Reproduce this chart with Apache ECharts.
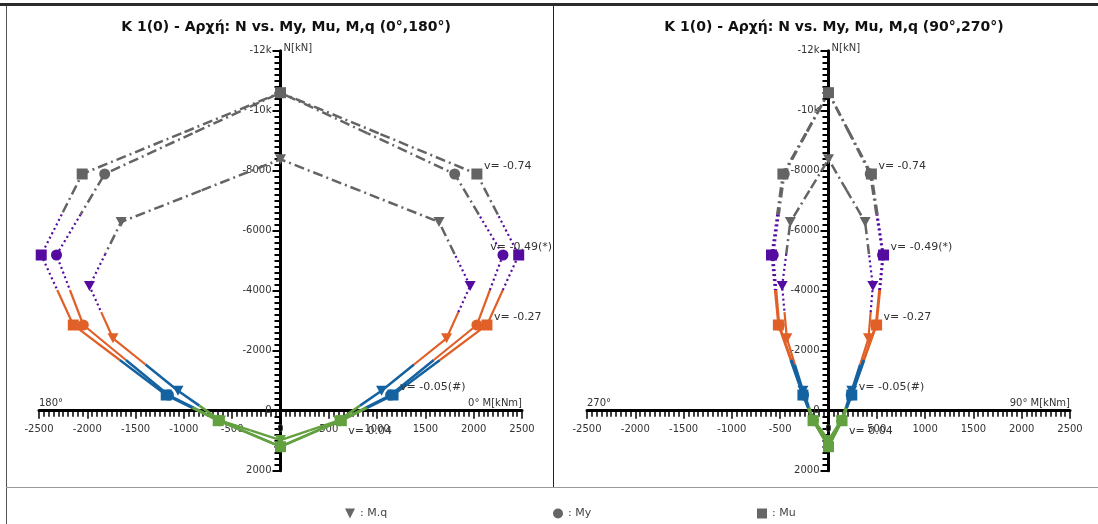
<!DOCTYPE html>
<html><head><meta charset="utf-8">
<script src="https://cdn.jsdelivr.net/npm/echarts@6/dist/echarts.min.js"></script>
<style>html,body{margin:0;padding:0;background:#fff}#c{width:1098px;height:524px}</style>
</head><body><div id="c"></div>
<script>
// ---- data ----
const titles = ['K 1(0) - Αρχή: N vs. My, Mu, M,q (0°,180°)', 'K 1(0) - Αρχή: N vs. My, Mu, M,q (90°,270°)'];
const posNames = ['0° M[kNm]', '90° M[kNm]'];
const negNames = ['180°', '270°'];
const curveNames = ['M.q', 'My', 'Mu'];
const levelLabels = ['v= 0.04', 'v= -0.05(#)', 'v= -0.27', 'v= -0.49(*)', 'v= -0.74'];
const xRange = [-2500, 2500], xStep = 500;
const yRange = [-12000, 2000], yStep = 2000;

// N [kN] at the five v-levels, and the pure tension / compression apexes
const nLevelsMq = [330, -667, -2413, -4157, -6290];
const nLevelsMyMu = [333, -523, -2857, -5190, -7890];
const nTensionMq = 980, nCompMq = -8380;
const nTensionMyMu = 1200, nCompMyMu = -10600;

// Chart A (0°,180°)  M [kNm]
const a_Mq_pos = [600, 1046, 1719, 1963, 1641];
const a_Mq_neg = [-620, -1061, -1734, -1978, -1650];
const a_My_pos = [615, 1140, 2033, 2303, 1803];
const a_My_neg = [-630, -1160, -2041, -2319, -1820];
const a_Mu_pos = [630, 1165, 2137, 2466, 2033];
const a_Mu_neg = [-645, -1183, -2145, -2477, -2053];

// Chart B (90°,270°)  M [kNm]
const b_Mq_pos = [130, 241, 414, 459, 379];
const b_Mq_neg = [-150, -265, -431, -480, -395];
const b_My_pos = [135, 235, 490, 560, 432];
const b_My_neg = [-155, -258, -510, -572, -458];
const b_Mu_pos = [140, 241, 498, 570, 444];
const b_Mu_neg = [-160, -265, -519, -590, -472];

// ---- styles ----
const levelColors = ['#62a040', '#1462a0', '#e06028', '#550aa0', '#646464'];
const levelWidths = [2.5, 2.5, 2.2, 2.2, 2.5];
const levelDash = [null, null, null, [2, 3], [10, 4, 2, 4]];
const FONT = '"DejaVu Sans", Verdana, sans-serif';

function buildLoop(nT, nC, nLv, pos, neg) {
  const loop = [[0, nT, 0]];
  for (let i = 0; i < nLv.length; i++) loop.push([pos[i], nLv[i], i]);
  loop.push([0, nC, 4]);
  for (let i = nLv.length - 1; i >= 0; i--) loop.push([neg[i], nLv[i], i]);
  return loop;
}

const charts = [
  { Mq: buildLoop(nTensionMq, nCompMq, nLevelsMq, a_Mq_pos, a_Mq_neg),
    My: buildLoop(nTensionMyMu, nCompMyMu, nLevelsMyMu, a_My_pos, a_My_neg),
    Mu: buildLoop(nTensionMyMu, nCompMyMu, nLevelsMyMu, a_Mu_pos, a_Mu_neg),
    MuPos: a_Mu_pos, right: 552 },
  { Mq: buildLoop(nTensionMq, nCompMq, nLevelsMq, b_Mq_pos, b_Mq_neg),
    My: buildLoop(nTensionMyMu, nCompMyMu, nLevelsMyMu, b_My_pos, b_My_neg),
    Mu: buildLoop(nTensionMyMu, nCompMyMu, nLevelsMyMu, b_Mu_pos, b_Mu_neg),
    MuPos: b_Mu_pos, right: 1096 }
];

const mctx = document.createElement('canvas').getContext('2d');
mctx.font = '11px ' + FONT;

function lineRenderer(loop) {
  return function (params, api) {
    const i = params.dataIndex, n = loop.length;
    const a = loop[(i - 1 + n) % n], b = loop[(i + 1) % n];
    const c = api.coord([loop[i][0], loop[i][1]]);
    const p = api.coord([a[0], a[1]]);
    const q = api.coord([b[0], b[1]]);
    const lv = loop[i][2];
    return {
      type: 'polyline',
      shape: { points: [[(p[0] + c[0]) / 2, (p[1] + c[1]) / 2], c, [(q[0] + c[0]) / 2, (q[1] + c[1]) / 2]] },
      style: { stroke: levelColors[lv], lineWidth: levelWidths[lv], lineDash: levelDash[lv], fill: 'none', lineJoin: 'round' }
    };
  };
}

const grids = [], xAxes = [], yAxes = [], series = [], titleOpts = [];
const gridLefts = [39, 587];
const GW = 483, GH = 420, GTOP = 50.7;
// place the axes through the origin (0,0)
const xAxisOffset = -GH * (0 - yRange[0]) / (yRange[1] - yRange[0]) + GH; // distance from bottom edge
const yAxisOffset = GW * (0 - xRange[0]) / (xRange[1] - xRange[0]);       // distance from left edge
charts.forEach((ch, g) => {
  grids.push({ left: gridLefts[g], top: GTOP, width: GW, height: GH });
  titleOpts.push({ text: titles[g], left: gridLefts[g] + 242, top: 15, textAlign: 'center',
    textStyle: { fontFamily: FONT, fontSize: 14, fontWeight: 'bold', color: '#111' } });
  const xCommon = {
    type: 'value', gridIndex: g, min: xRange[0], max: xRange[1], interval: xStep, position: 'bottom',
    offset: -xAxisOffset, splitLine: { show: false }, minorSplitLine: { show: false }
  };
  xAxes.push(Object.assign({}, xCommon, {
    name: posNames[g], nameLocation: 'end', nameGap: 0,
    nameTextStyle: { align: 'right', verticalAlign: 'bottom', fontFamily: FONT, fontSize: 10, color: '#333', padding: [0, 0, 2, 0] },
    axisLine: { onZero: false, lineStyle: { color: '#000', width: 3 } },
    axisTick: { show: true, length: 8, lineStyle: { color: '#000', width: 1.5 } },
    minorTick: { show: true, splitNumber: 10, length: 6, lineStyle: { color: '#000', width: 1.5 } },
    axisLabel: { fontFamily: FONT, fontSize: 10, color: '#333', margin: 14, formatter: v => String(v) }
  }));
  xAxes.push(Object.assign({}, xCommon, {
    name: negNames[g], nameLocation: 'start', nameGap: 0,
    nameTextStyle: { align: 'left', verticalAlign: 'bottom', fontFamily: FONT, fontSize: 10, color: '#333', padding: [0, 0, 2, 0] },
    axisLine: { show: false, onZero: false }, axisTick: { show: false }, axisLabel: { show: false }
  }));
  yAxes.push({
    type: 'value', gridIndex: g, min: yRange[0], max: yRange[1], interval: yStep, inverse: true,
    position: 'left', offset: -yAxisOffset,
    name: 'N[kN]', nameLocation: 'start', nameGap: 0,
    nameTextStyle: { align: 'left', verticalAlign: 'bottom', fontFamily: FONT, fontSize: 10, color: '#333', padding: [0, 0, -3, 3] },
    axisLine: { onZero: false, lineStyle: { color: '#000', width: 3 } },
    axisTick: { show: true, length: 8, lineStyle: { color: '#000', width: 2 } },
    minorTick: { show: true, splitNumber: 10, length: 6, lineStyle: { color: '#000', width: 2 } },
    axisLabel: { fontFamily: FONT, fontSize: 10, color: '#333', margin: 9,
      formatter: v => Math.abs(v) >= 10000 ? (v / 1000) + 'k' : String(v) },
    splitLine: { show: false }, minorSplitLine: { show: false }
  });
  const xi = g * 2, yi = g;
  curveNames.forEach(cn => {
    const key = cn === 'M.q' ? 'Mq' : cn;
    const loop = ch[key];
    series.push({
      type: 'custom', name: cn, xAxisIndex: xi, yAxisIndex: yi, z: 2,
      data: loop, encode: { x: 0, y: 1 }, renderItem: lineRenderer(loop), silent: true
    });
  });
  curveNames.forEach(cn => {
    const key = cn === 'M.q' ? 'Mq' : cn;
    const loop = ch[key];
    series.push({
      type: 'scatter', name: cn, xAxisIndex: xi, yAxisIndex: yi, z: 3,
      data: loop, symbol: key === 'Mq' ? 'triangle' : (key === 'My' ? 'circle' : 'rect'),
      symbolRotate: key === 'Mq' ? 180 : 0, symbolSize: key === 'Mq' ? [11, 10] : 11,
      itemStyle: { color: p => levelColors[p.value[2]], opacity: 1 },
      emphasis: { disabled: true }, silent: true
    });
  });
  const labelData = levelLabels.map((t, i) => [ch.MuPos[i], nLevelsMyMu[i], i]);
  series.push({
    type: 'custom', name: 'labels', xAxisIndex: xi, yAxisIndex: yi, z: 4, silent: true,
    data: labelData, encode: { x: 0, y: 1 },
    renderItem: (params, api) => {
      const i = params.dataIndex;
      const c = api.coord([labelData[i][0], labelData[i][1]]);
      const t = levelLabels[i];
      const w = mctx.measureText(t).width;
      let x = c[0] + 7;
      if (x + w > ch.right) x = ch.right - w;
      const y = c[1] + (i === 0 ? 10 : -8);
      return { type: 'text', style: { text: t, x: x, y: y, fontSize: 11, fontFamily: FONT, fill: '#333', verticalAlign: 'middle', align: 'left' } };
    }
  });
});

const legendIcons = { 'M.q': 'path://M0,0L10,0L5,10Z', 'My': 'circle', 'Mu': 'rect' };
const legendLefts = [340, 548, 752];
const legends = curveNames.map((cn, i) => ({
  left: legendLefts[i], top: 503, itemWidth: 10, itemHeight: 10, itemGap: 4,
  selectedMode: false,
  data: [{ name: cn, icon: legendIcons[cn], itemStyle: { color: '#666' } }],
  formatter: n => ': ' + n,
  textStyle: { fontFamily: FONT, fontSize: 11, color: '#444', padding: [2, 0, 0, 0] }
}));

const chart = echarts.init(document.getElementById('c'), null, { renderer: 'canvas' });
chart.setOption({
  animation: false,
  backgroundColor: '#fff',
  title: titleOpts,
  grid: grids, xAxis: xAxes, yAxis: yAxes,
  legend: legends,
  series: series,
  graphic: [
    { type: 'rect', shape: { x: 0, y: 3, width: 1098, height: 3 }, style: { fill: '#2b2b2b' }, silent: true },
    { type: 'line', shape: { x1: 6.5, y1: 6, x2: 6.5, y2: 524 }, style: { stroke: '#555', lineWidth: 1 }, silent: true },
    { type: 'line', shape: { x1: 553.5, y1: 6, x2: 553.5, y2: 487 }, style: { stroke: '#222', lineWidth: 1 }, silent: true },
    { type: 'line', shape: { x1: 6, y1: 487.5, x2: 1098, y2: 487.5 }, style: { stroke: '#999', lineWidth: 1 }, silent: true }
  ]
});
</script>
</body></html>
